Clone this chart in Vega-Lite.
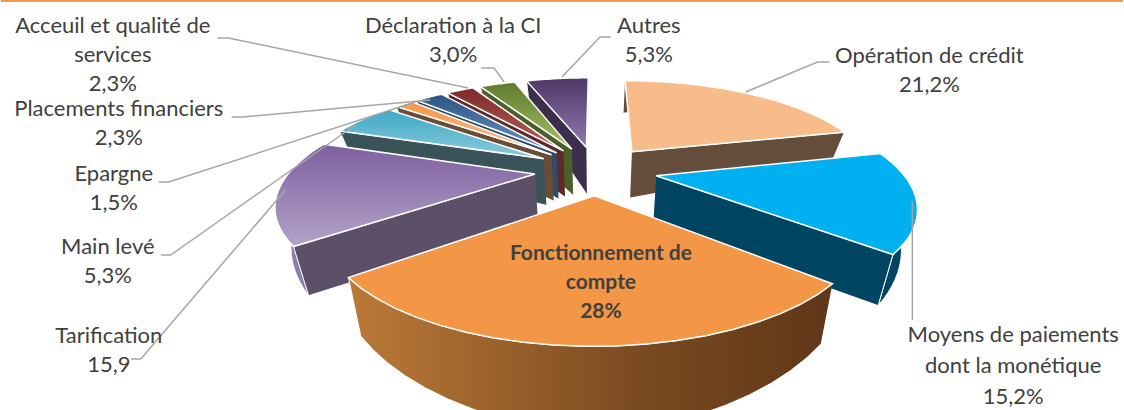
{
 "$schema":"https://vega.github.io/schema/vega-lite/v6.json",
 "width":1124,"height":410,"autosize":{"type":"fit","contains":"padding"},"padding":0,"background":"white",
 "view":{"stroke":null},
 "resolve":{"scale":{"fill":"independent"}},
 "data":{"values":[
  {"order":10,"name":"Autres","value":5.3,"label":"Autres\n5,3%"},
  {"order":9,"name":"Déclaration à la CI","value":3.0,"label":"Déclaration à la CI\n3,0%"},
  {"order":8,"name":"Acceuil et qualité de services","value":2.3,"label":"Acceuil et qualité de\nservices\n2,3%"},
  {"order":7,"name":"Placements financiers","value":2.3,"label":"Placements financiers\n2,3%"},
  {"order":6,"name":"Epargne","value":1.5,"label":"Epargne\n1,5%"},
  {"order":5,"name":"Main levé","value":5.3,"label":"Main levé\n5,3%"},
  {"order":1,"name":"Opération de crédit","value":21.2,"label":"Opération de crédit\n21,2%"},
  {"order":4,"name":"Tarification","value":15.9,"label":"Tarification\n15,9"},
  {"order":2,"name":"Moyens de paiements dont la monétique","value":15.2,"label":"Moyens de paiements\ndont la monétique\n15,2%"},
  {"order":3,"name":"Fonctionnement de compte","value":28,"label":"Fonctionnement de\ncompte\n28%"}
 ]},
 "transform":[
  {"stack":"value","groupby":[],"sort":[{"field":"order","order":"ascending"}],"as":["v0","v1"]},
  {"calculate":"[-1,0,0.05,0.1,0.15,0.2,0.25,0.3,0.35,0.4,0.45,0.5,0.55,0.6,0.65,0.7,0.75,0.8,0.85,0.9,0.95,1,2]","as":"t"},
  {"flatten":["t"]},
  {"calculate":"[0,1]","as":"l"},
  {"flatten":["l"]},
  {"calculate":"2*PI*(datum.v0+datum.v1)/200","as":"m"},
  {"calculate":"2*PI*(datum.v0+datum.t*(datum.v1-datum.v0))/100","as":"a"},
  {"calculate":"(datum.t<0||datum.t>1)?0:1","as":"rim"},
  {"calculate":"0.25*sin(datum.m)+datum.rim*sin(datum.a)","as":"u"},
  {"calculate":"-0.25*cos(datum.m)-datum.rim*cos(datum.a)","as":"w0"},
  {"calculate":"1-0.25*datum.w0","as":"w"},
  {"calculate":"245*datum.u/datum.w","as":"dx"},
  {"calculate":"170+97*datum.w0/datum.w","as":"y0"},
  {"calculate":"596+datum.dx*(datum.l==1?0.95:1)","as":"px"},
  {"calculate":"datum.y0+datum.l*(48+0.2*(datum.y0-150)-0.06*abs(datum.dx))","as":"py"},
  {"calculate":"datum.l==0?datum.t:3-datum.t","as":"s"}
 ],
 "layer":[
  {"mark":{"type":"rule","stroke":"#F79646","strokeWidth":2},"encoding":{"y":{"datum":1,"type":"quantitative","scale":{"domain":[0,410],"reverse":true},"axis":null}}},
  {"transform":[{"filter":"datum.rim==1&&datum.name!='Fonctionnement de compte'"}],
   "mark":{"type":"line","stroke":"white","strokeWidth":1,"clip":true},
   "encoding":{
    "x":{"field":"px","type":"quantitative","scale":{"domain":[0,1124]},"axis":null},
    "y":{"field":"py","type":"quantitative","scale":{"domain":[0,410],"reverse":true},"axis":null},
    "order":{"field":"s"},
    "detail":{"field":"name"},
    "fill":{"field":"name","type":"nominal","legend":null,"scale":{
      "domain":["Autres","Déclaration à la CI","Acceuil et qualité de services","Placements financiers","Epargne","Main levé","Opération de crédit","Tarification","Moyens de paiements dont la monétique"],
      "range":["#3B2F4C","#4B5F2A","#5E2A29","#2F4D6A","#6B4C35","#3A5359","#654D3B","#8F7FA8","#004561"]}}
   }},
  {"transform":[
     {"filter":"datum.name!='Fonctionnement de compte'&&datum.t<=1"},
     {"calculate":"datum.m>PI?0:1","as":"cut"},
     {"filter":"datum.t<0||datum.t==datum.cut"},
     {"calculate":"datum.l==0?(datum.t<0?0:1):(datum.t<0?3:2)","as":"q"}
   ],
   "mark":{"type":"line","stroke":"white","strokeWidth":1,"clip":true},
   "encoding":{
    "x":{"field":"px","type":"quantitative","scale":{"domain":[0,1124]},"axis":null},
    "y":{"field":"py","type":"quantitative","scale":{"domain":[0,410],"reverse":true},"axis":null},
    "order":{"field":"q"},
    "detail":{"field":"name"},
    "fill":{"field":"name","type":"nominal","legend":null,"scale":{
      "domain":["Autres","Déclaration à la CI","Acceuil et qualité de services","Placements financiers","Epargne","Main levé","Opération de crédit","Tarification","Moyens de paiements dont la monétique"],
      "range":["#3B2F4C","#4B5F2A","#5E2A29","#2F4D6A","#6B4C35","#3A5359","#654D3B","#5B5068","#004561"]}}
   }},
  {"transform":[{"filter":"datum.rim==1&&datum.name=='Fonctionnement de compte'"}],
   "mark":{"type":"line","stroke":"white","strokeWidth":1,"clip":true,"fill":{"gradient":"linear","x1":0,"y1":0,"x2":1,"y2":0,"stops":[{"offset":0,"color":"#BC7A38"},{"offset":0.6,"color":"#7A4A20"},{"offset":1,"color":"#5F3719"}]}},
   "encoding":{
    "x":{"field":"px","type":"quantitative","scale":{"domain":[0,1124]},"axis":null},
    "y":{"field":"py","type":"quantitative","scale":{"domain":[0,410],"reverse":true},"axis":null},
    "order":{"field":"s"},"detail":{"field":"name"}
   }},
  {"transform":[{"filter":"datum.l==0"}],
   "mark":{"type":"line","stroke":"white","strokeWidth":1.5},
   "encoding":{
    "x":{"field":"px","type":"quantitative","scale":{"domain":[0,1124]},"axis":null},
    "y":{"field":"py","type":"quantitative","scale":{"domain":[0,410],"reverse":true},"axis":null},
    "order":{"field":"t"},
    "detail":{"field":"name"},
    "fill":{"condition":[
      {"test":"datum.name=='Autres'","value":{"gradient":"linear","x1":0,"y1":0,"x2":0,"y2":1,"stops":[{"offset":0,"color":"#4F3768"},{"offset":1,"color":"#9279B0"}]}},
      {"test":"datum.name=='Déclaration à la CI'","value":{"gradient":"linear","x1":0,"y1":0,"x2":0,"y2":1,"stops":[{"offset":0,"color":"#5E7A2E"},{"offset":1,"color":"#A3C163"}]}},
      {"test":"datum.name=='Acceuil et qualité de services'","value":{"gradient":"linear","x1":0,"y1":0,"x2":0,"y2":1,"stops":[{"offset":0,"color":"#7B2A28"},{"offset":1,"color":"#C0605E"}]}},
      {"test":"datum.name=='Placements financiers'","value":{"gradient":"linear","x1":0,"y1":0,"x2":0,"y2":1,"stops":[{"offset":0,"color":"#2A5580"},{"offset":1,"color":"#6C94C8"}]}},
      {"test":"datum.name=='Epargne'","value":{"gradient":"linear","x1":0,"y1":0,"x2":0,"y2":1,"stops":[{"offset":0,"color":"#F79646"},{"offset":1,"color":"#FAC090"}]}},
      {"test":"datum.name=='Main levé'","value":{"gradient":"linear","x1":0,"y1":0,"x2":0,"y2":1,"stops":[{"offset":0,"color":"#3FA8C6"},{"offset":1,"color":"#8ACBDC"}]}},
      {"test":"datum.name=='Tarification'","value":{"gradient":"linear","x1":0,"y1":0,"x2":0,"y2":1,"stops":[{"offset":0,"color":"#7E5F9F"},{"offset":1,"color":"#B3A3C9"}]}},
      {"test":"datum.name=='Opération de crédit'","value":"#F7BC8A"},
      {"test":"datum.name=='Moyens de paiements dont la monétique'","value":"#00B0F0"}
     ],"value":"#F39645"}
   }},
  {"transform":[
     {"filter":"datum.l==0&&datum.t==0&&datum.name!='Fonctionnement de compte'"},
     {"calculate":"[0,1,2]","as":"step"},{"flatten":["step"]},
     {"calculate":"{'Autres':[611,600,562],'Déclaration à la CI':[481,494,504],'Acceuil et qualité de services':[217,228,468],'Placements financiers':[231,243,430],'Epargne':[158,168,415],'Main levé':[160,170,355],'Opération de crédit':[830,818,746],'Tarification':[130,140,285],'Moyens de paiements dont la monétique':[913,913,913]}[datum.name][datum.step]","as":"lx"},
     {"calculate":"{'Autres':[37,37,77],'Déclaration à la CI':[68,68,82],'Acceuil et qualité de services':[38,38,88],'Placements financiers':[117,117,100],'Epargne':[182,182,102],'Main levé':[255,255,125],'Opération de crédit':[62,62,92],'Tarification':[359,359,190],'Moyens de paiements dont la monétique':[320,320,201]}[datum.name][datum.step]","as":"ly"}
   ],
   "mark":{"type":"line","stroke":"#A6A6A6","strokeWidth":1.5},
   "encoding":{
    "x":{"field":"lx","type":"quantitative","scale":{"domain":[0,1124]},"axis":null},
    "y":{"field":"ly","type":"quantitative","scale":{"domain":[0,410],"reverse":true},"axis":null},
    "order":{"field":"step"},"detail":{"field":"name"}
   }},
  {"transform":[
     {"filter":"datum.l==0&&datum.t==0&&datum.name!='Fonctionnement de compte'&&datum.name!='Moyens de paiements dont la monétique'"},
     {"calculate":"{'Autres':649,'Déclaration à la CI':453,'Acceuil et qualité de services':112,'Placements financiers':118,'Epargne':113,'Main levé':107,'Opération de crédit':930,'Tarification':108}[datum.name]","as":"tx"},
     {"calculate":"{'Autres':16,'Déclaration à la CI':16,'Acceuil et qualité de services':16,'Placements financiers':99,'Epargne':164,'Main levé':237,'Opération de crédit':46,'Tarification':326}[datum.name]","as":"ty"}
   ],
   "mark":{"type":"text","font":"Lato","fontSize":22,"lineBreak":"\n","lineHeight":29,"baseline":"top","align":"center","fill":"#404040"},
   "encoding":{
    "x":{"field":"tx","type":"quantitative","scale":{"domain":[0,1124]},"axis":null},
    "y":{"field":"ty","type":"quantitative","scale":{"domain":[0,410],"reverse":true},"axis":null},
    "text":{"field":"label"}
   }},
  {"transform":[
     {"filter":"datum.l==0&&datum.t==0&&datum.name=='Moyens de paiements dont la monétique'"},
     {"calculate":"1014","as":"tx"},{"calculate":"325","as":"ty"}
   ],
   "mark":{"type":"text","font":"Lato","fontSize":22,"lineBreak":"\n","lineHeight":31,"baseline":"top","align":"center","fill":"#404040"},
   "encoding":{
    "x":{"field":"tx","type":"quantitative","scale":{"domain":[0,1124]},"axis":null},
    "y":{"field":"ty","type":"quantitative","scale":{"domain":[0,410],"reverse":true},"axis":null},
    "text":{"field":"label"}
   }},
  {"transform":[
     {"filter":"datum.l==0&&datum.t==0&&datum.name=='Fonctionnement de compte'"},
     {"calculate":"601","as":"tx"},{"calculate":"243","as":"ty"}
   ],
   "mark":{"type":"text","font":"Lato","fontSize":21,"fontWeight":"bold","lineBreak":"\n","lineHeight":29,"baseline":"top","align":"center","fill":"#404040"},
   "encoding":{
    "x":{"field":"tx","type":"quantitative","scale":{"domain":[0,1124]},"axis":null},
    "y":{"field":"ty","type":"quantitative","scale":{"domain":[0,410],"reverse":true},"axis":null},
    "text":{"field":"label"}
   }}
 ]
}
